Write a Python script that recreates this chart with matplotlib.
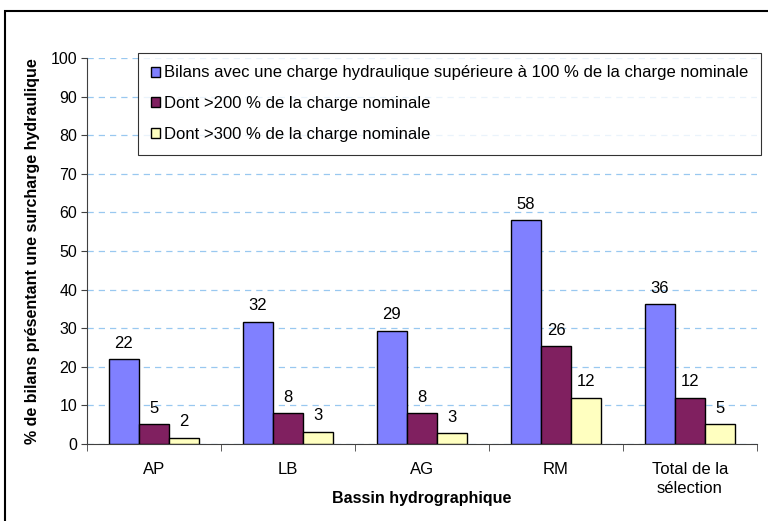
import numpy as np
import matplotlib
matplotlib.use("Agg")
import matplotlib.pyplot as plt
from matplotlib.patches import Rectangle

plt.rcParams["font.family"] = ["Liberation Sans", "DejaVu Sans"]

categories = ["AP", "LB", "AG", "RM", "Total de la\nsélection"]
series_names = [
    "Bilans avec une charge hydraulique supérieure à 100 % de la charge nominale",
    "Dont >200 % de la charge nominale",
    "Dont >300 % de la charge nominale",
]
over100 = [21.9, 31.7, 29.4, 58.0, 36.2]
over200 = [5.2, 8.0, 8.0, 25.4, 12.0]
over300 = [1.6, 3.2, 2.85, 12.0, 5.2]
labels100 = ["22", "32", "29", "58", "36"]
labels200 = ["5", "8", "8", "26", "12"]
labels300 = ["2", "3", "3", "12", "5"]
colors = ["#8080FF", "#802060", "#FFFFC0"]

fig = plt.figure(figsize=(7.68, 5.21), dpi=100)
ax = fig.add_axes([87 / 768, 1 - 444 / 521, 670 / 768, 386 / 521])

x = np.arange(len(categories))
w = 0.224
for i, (vals, labs) in enumerate(((over100, labels100), (over200, labels200), (over300, labels300))):
    pos = x + (i - 1) * w
    ax.bar(pos, vals, w, color=colors[i], edgecolor="black", linewidth=1.0,
           label=series_names[i], zorder=3)
    for px, v, t in zip(pos, vals, labs):
        ax.annotate(t, (px, v), xytext=(0, 6), textcoords="offset points",
                    ha="center", va="bottom", fontsize=12)

ax.set_xlim(-0.5, len(categories) - 0.5)
ax.set_ylim(0, 100)
ax.set_yticks(np.arange(0, 101, 10))
ax.yaxis.grid(True, color="#99C8F0", ls=(0, (5, 4)), lw=0.9)
ax.set_axisbelow(True)
ax.spines["top"].set_visible(False)
ax.spines["right"].set_visible(False)
ax.spines["left"].set_color("#404040")
ax.spines["bottom"].set_color("#404040")
ax.set_xticks(x)
ax.set_xticklabels(categories, fontsize=12, linespacing=1.3)
ax.tick_params(axis="x", length=0, pad=13)
ax.set_xticks(np.arange(-0.5, len(categories)), minor=True)
ax.tick_params(axis="x", which="minor", length=5, color="#404040")
ax.tick_params(axis="y", length=4, pad=3, labelsize=11.5, color="#404040")

ax.set_xlabel("Bassin hydrographique", fontsize=11.5, fontweight="bold", labelpad=-3)
ax.set_ylabel("% de bilans présentant une surcharge hydraulique", fontsize=11.5,
              fontweight="bold", labelpad=8)

leg = ax.legend(loc="upper left", bbox_to_anchor=(51 / 670, 1.013), fontsize=12,
                frameon=True, fancybox=False, edgecolor="black", handlelength=0.55,
                handleheight=0.55, handletextpad=0.25, labelspacing=0.95,
                borderpad=0.75, borderaxespad=0)
leg.get_frame().set_linewidth(0.8)

fig.patches.append(Rectangle((5 / 768, -0.01), 1.0, 1 - 11 / 521 + 0.01,
                             transform=fig.transFigure, fill=False,
                             edgecolor="black", linewidth=1.5))

fig.savefig("out.png", dpi=100)
